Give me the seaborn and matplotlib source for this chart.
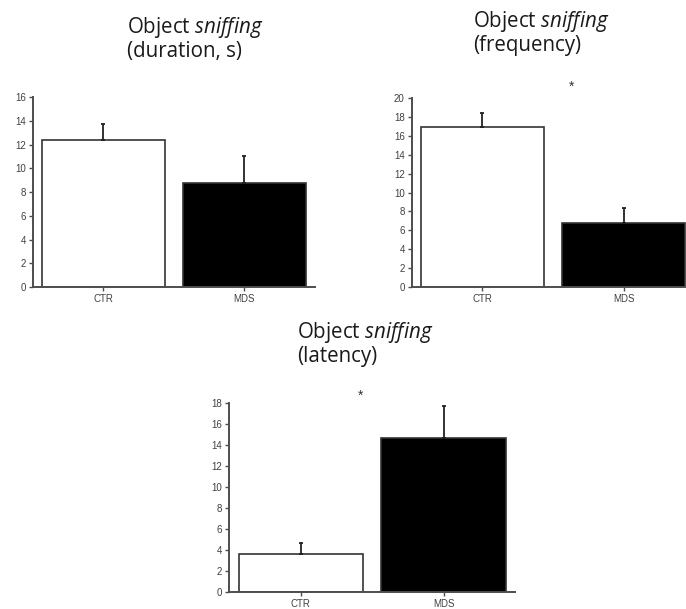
import matplotlib
matplotlib.use("Agg")
import matplotlib.pyplot as plt
import seaborn as sns
import pandas as pd

groups = ["CTR", "MDS"]
duration_mean = [12.35, 8.75]
duration_sem = [1.4, 2.25]
frequency_mean = [16.95, 6.8]
frequency_sem = [1.5, 1.6]
latency_mean = [3.6, 14.7]
latency_sem = [1.1, 3.0]

titles = ["(duration, s)", "(frequency)", "(latency)"]

sns.set_theme(style="ticks")
plt.rcParams["font.family"] = ["Liberation Sans", "DejaVu Sans"]
plt.rcParams["mathtext.fontset"] = "custom"
plt.rcParams["mathtext.rm"] = "Open Sans"
plt.rcParams["mathtext.it"] = "Open Sans:italic"

fig = plt.figure(figsize=(6.86, 6.09), dpi=100)

panels = [
    dict(mean=duration_mean, sem=duration_sem, rect=[0.0481, 0.5287, 0.411, 0.312],
         ylim=16, xlim=(-0.5, 1.5), star=None,
         title_xy=(127, 33)),
    dict(mean=frequency_mean, sem=frequency_sem, rect=[0.6001, 0.5292, 0.400, 0.3094],
         ylim=20, xlim=(-0.5, 1.44), star=(0.63, 21.2),
         title_xy=(473, 27)),
    dict(mean=latency_mean, sem=latency_sem, rect=[0.3343, 0.0284, 0.4165, 0.3094],
         ylim=18, xlim=(-0.5, 1.5), star=(0.42, 18.7),
         title_xy=(297, 338)),
]

W, H = 686, 609
edge = "#4d4d4d"
for p, sub in zip(panels, titles):
    ax = fig.add_axes(p["rect"])
    df = pd.DataFrame({"group": groups, "value": p["mean"]})
    sns.barplot(data=df, x="group", y="value", hue="group",
                palette=["white", "black"], edgecolor="#333333", linewidth=1.2,
                width=0.87, errorbar=None, legend=False, ax=ax)
    xs = list(range(len(groups)))
    ax.errorbar(xs, p["mean"], yerr=[[0] * len(groups), p["sem"]], fmt="none",
                ecolor="#222222", elinewidth=1.3, capsize=1.5, capthick=1.3, zorder=3)
    ax.set_ylim(0, p["ylim"])
    ax.set_xlim(*p["xlim"])
    ax.set_yticks(range(0, p["ylim"] + 1, 2))
    ax.set_xlabel("")
    ax.set_ylabel("")
    ax.set_facecolor("none")
    for s in ["top", "right"]:
        ax.spines[s].set_visible(False)
    for s in ["left", "bottom"]:
        ax.spines[s].set_color(edge)
        ax.spines[s].set_linewidth(1.4)
    ax.tick_params(axis="both", labelsize=7, colors=edge, length=3, width=1.0,
                   pad=2, labelcolor="#404040")
    if p["star"] is not None:
        ax.text(p["star"][0], p["star"][1], "*", ha="center", va="center",
                fontsize=10, color="#333333", clip_on=False)
    tx, ty = p["title_xy"]
    fig.text(tx / W, 1 - ty / H, r"Object $\mathit{sniffing}$", fontsize=14.8,
             family="Open Sans", ha="left", va="baseline", color="#1a1a1a")
    fig.text(tx / W, 1 - (ty + 24) / H, sub, fontsize=14.8,
             family="Open Sans", ha="left", va="baseline", color="#1a1a1a")

fig.savefig("out.png", dpi=100)
